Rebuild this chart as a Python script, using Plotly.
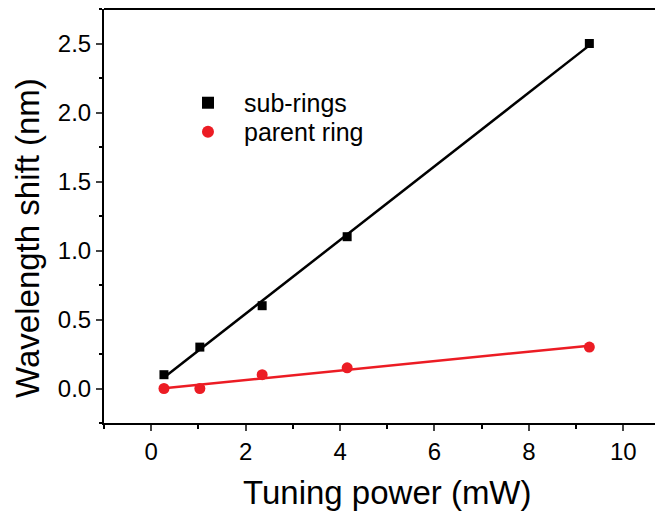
import numpy as np
import plotly.graph_objects as go

power_mw = [0.27, 1.03, 2.35, 4.15, 9.28]
sub_rings_shift = [0.10, 0.30, 0.60, 1.10, 2.50]
parent_ring_shift = [0.00, 0.00, 0.10, 0.15, 0.30]

x_ticks = [0, 2, 4, 6, 8, 10]
y_ticks = [0.0, 0.5, 1.0, 1.5, 2.0, 2.5]

BLACK = "#000000"
RED = "#ec1c24"
FONT = "Liberation Sans, Arial, sans-serif"

xp = np.array(power_mw)
fit_x = np.array([xp.min(), xp.max()])
k1, b1 = np.polyfit(xp, sub_rings_shift, 1)
k2, b2 = np.polyfit(xp, parent_ring_shift, 1)

fig = go.Figure()
fig.add_trace(go.Scatter(x=fit_x, y=k1 * fit_x + b1, mode="lines",
                         line=dict(color=BLACK, width=2.5), showlegend=False, hoverinfo="skip"))
fig.add_trace(go.Scatter(x=fit_x, y=k2 * fit_x + b2, mode="lines",
                         line=dict(color=RED, width=2.5), showlegend=False, hoverinfo="skip"))
fig.add_trace(go.Scatter(x=power_mw, y=sub_rings_shift, mode="markers", name="sub-rings",
                         marker=dict(symbol="square", size=9, color=BLACK), legend="legend"))
fig.add_trace(go.Scatter(x=power_mw, y=parent_ring_shift, mode="markers", name="parent ring",
                         marker=dict(symbol="circle", size=11, color=RED), legend="legend2"))

# top frame line (no right frame in the reference)
fig.add_shape(type="line", xref="paper", yref="paper", x0=0, x1=1, y0=1, y1=1,
              line=dict(color="black", width=2))

# axis titles
fig.add_annotation(text="Tuning power (mW)", xref="paper", yref="paper", x=0.507, y=-0.169,
                   xanchor="center", yanchor="middle", showarrow=False,
                   font=dict(size=33, family=FONT, color="black"))
fig.add_annotation(text="Wavelength shift (nm)", xref="paper", yref="paper", x=-0.136, y=0.447,
                   xanchor="center", yanchor="middle", showarrow=False, textangle=-90,
                   font=dict(size=33, family=FONT, color="black"))

leg_common = dict(xanchor="left", yanchor="middle", bgcolor="rgba(0,0,0,0)",
                  font=dict(size=25, family=FONT), itemsizing="constant", itemwidth=62)

fig.update_layout(
    width=655, height=507,
    margin=dict(l=96, r=0, t=1, b=92, autoexpand=False),
    paper_bgcolor="white", plot_bgcolor="white",
    font=dict(family=FONT, color="black"),
    legend=dict(x=0.1216, y=0.773, **leg_common),
    legend2=dict(x=0.1216, y=0.703, **leg_common),
    xaxis=dict(range=[-1, 10.84], tickvals=x_ticks, ticks="outside", ticklen=6, tickwidth=2,
               showline=True, linewidth=2, linecolor="black", mirror=False,
               showgrid=False, zeroline=False, automargin=False,
               minor=dict(dtick=1, ticks="outside", ticklen=3.5, tickwidth=2, tickcolor="black"),
               tickfont=dict(size=24, family=FONT)),
    yaxis=dict(range=[-0.25, 2.75], tickvals=y_ticks, tickformat=".1f", ticks="outside",
               ticklen=6, tickwidth=2,
               showline=True, linewidth=2, linecolor="black", mirror=False,
               showgrid=False, zeroline=False, automargin=False,
               minor=dict(dtick=0.25, tick0=0.25, ticks="outside", ticklen=3.5, tickwidth=2, tickcolor="black"),
               tickfont=dict(size=24, family=FONT)),
)

fig.write_html("out.html")
